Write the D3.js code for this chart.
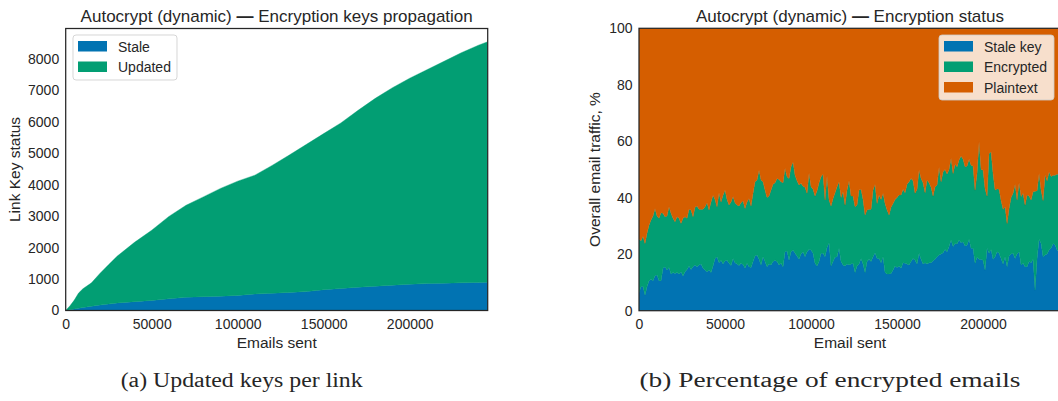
<!DOCTYPE html>
<html><head><meta charset="utf-8">
<script src="https://cdn.jsdelivr.net/npm/d3@7"></script>
<style>
html,body{margin:0;padding:0;background:#fff;overflow:hidden}
svg{display:block}
text{font-family:"Liberation Sans",Arial,sans-serif;fill:#262626}
</style></head><body>
<svg id="c" width="1058" height="401"></svg>
<script>
// ---------- Panel (a): link key status ----------
const emailsA = [0,2500,5000,7500,10000,15000,20000,25000,30000,40000,50000,60000,70000,80000,90000,100000,110000,120000,130000,140000,150000,160000,170000,180000,190000,200000,210000,220000,230000,240000,245350];
const staleA = [0,25,50,75,95,135,175,205,240,282,320,372,418,440,455,480,525,545,575,600,660,700,740,770,805,835,855,868,880,893,895];
const updatedA = [0,125,280,480,595,745,1010,1255,1490,1883,2230,2618,2927,3170,3425,3630,3775,4065,4365,4680,4960,5260,5620,5970,6275,6545,6795,7052,7310,7537,7645];

// ---------- Panel (b): encryption status (% of traffic) ----------
const emailsStepB = 1163; // sampling interval of the series, emails
const staleB = [6.4,8.5,8.7,5.5,8.5,10.6,11.1,10.6,12.4,12.6,10.6,10.6,15.0,15.6,14.4,15.3,13.0,13.5,13.2,13.5,13.0,13.8,12.3,13.8,14.6,15.8,14.6,15.6,16.2,15.6,16.2,16.5,15.0,14.4,13.8,14.4,13.5,15.8,18.5,19.1,17.0,17.9,16.5,17.7,17.9,16.8,16.0,18.5,17.0,16.5,16.0,16.8,16.4,
15.0,16.8,15.6,15.3,17.4,19.4,19.7,18.2,16.2,19.1,17.4,15.6,16.5,16.2,17.4,17.9,17.4,16.2,16.8,15.6,20.9,21.1,17.9,20.9,21.5,20.3,19.4,18.2,20.1,20.9,19.1,20.9,21.7,21.5,20.3,16.8,15.8,17.4,20.3,20.3,19.1,22.4,24.1,15.8,17.4,18.9,19.1,22.1,17.4,16.2,15.8,16.5,16.2,16.5,
16.8,13.5,15.8,16.5,18.5,16.5,13.5,17.4,18.2,17.4,19.1,20.5,18.5,18.5,17.0,19.1,13.5,13.0,13.0,13.2,14.4,15.8,15.3,15.8,15.0,17.0,16.8,16.5,16.2,17.4,18.5,17.9,16.5,20.3,18.2,16.5,17.0,16.5,17.0,17.0,17.7,18.2,19.1,19.7,20.1,20.5,21.7,20.9,22.7,25.0,22.7,23.8,23.6,25.0,
24.1,24.4,22.9,23.3,25.3,22.1,22.1,16.8,18.9,18.2,18.2,17.9,14.4,22.1,20.3,21.7,18.2,19.1,20.9,20.3,18.5,16.5,19.1,15.6,19.4,20.1,20.3,18.5,20.1,20.9,16.2,16.8,15.6,15.6,17.4,17.0,18.2,7.3,18.5,25.3,23.8,19.1,19.7,20.1,21.5,22.1,23.8,23.3,21.5,21.0];
const encryptedB = [18.9,16.3,17.7,18.3,18.9,19.7,21.0,22.9,23.8,20.9,22.1,24.1,19.5,17.7,19.1,21.5,21.5,19.2,18.3,19.8,19.7,17.1,20.4,19.5,18.1,20.1,21.1,17.7,20.4,21.5,19.7,19.4,20.9,22.4,24.4,21.3,25.0,25.1,20.9,17.7,24.8,20.6,24.4,25.0,21.5,20.6,22.5,21.9,21.2,20.9,21.1,21.4,22.5,
21.2,21.7,24.1,21.8,24.2,26.3,26.6,31.6,30.1,26.6,25.3,24.5,24.1,26.5,27.4,27.4,29.4,30.3,28.9,29.7,29.5,26.3,28.9,30.1,31.2,27.7,26.6,26.3,25.0,23.2,24.6,20.7,27.1,22.4,22.7,23.8,26.7,27.9,27.1,28.1,20.1,25.3,15.1,21.3,22.3,22.9,24.8,23.6,22.7,25.9,21.6,26.2,29.8,24.1,
23.8,23.3,21.6,26.2,24.5,22.9,20.4,18.3,17.7,18.5,23.6,24.3,19.5,22.5,22.4,22.5,24.5,22.7,20.9,23.4,23.6,23.6,24.8,25.2,26.0,26.0,25.0,28.3,29.5,29.4,27.5,23.7,26.5,29.5,28.6,28.8,24.8,29.8,28.3,26.7,22.9,25.7,25.4,31.1,25.6,28.7,28.3,27.5,27.3,29.0,25.9,28.1,27.4,28.4,
30.7,29.2,28.1,27.9,28.3,29.4,29.1,25.9,29.9,41.6,31.8,31.9,28.8,18.5,35.4,34.6,30.4,23.6,22.3,22.7,20.5,19.4,17.7,15.3,16.8,20.0,21.3,26.3,19.1,24.4,24.2,24.8,21.8,25.4,23.2,22.2,23.9,35.0,24.0,23.3,18.9,19.9,28.4,25.9,27.7,25.4,24.2,24.7,26.9,27.0];

const xTicks = [0,50000,100000,150000,200000];
const yTicksA = [0,1000,2000,3000,4000,5000,6000,7000,8000];
const yTicksB = [0,20,40,60,80,100];
const xMax = 245350;
const COL = {blue:"#0173b2", green:"#029e73", orange:"#d55e00"};

const svg = d3.select("#c");

function panel(cfg){
  const g = svg.append("g");
  const x = d3.scaleLinear().domain([0,xMax]).range([cfg.left,cfg.right]);
  const y = d3.scaleLinear().domain(cfg.yDomain).range([cfg.bottom,cfg.top]);
  const clipId = "clip"+cfg.id;
  svg.append("clipPath").attr("id",clipId).append("rect")
    .attr("x",cfg.left).attr("y",cfg.top).attr("width",cfg.right-cfg.left).attr("height",cfg.bottom-cfg.top);
  const stack = d3.stack().keys(cfg.keys)(cfg.rows);
  const area = d3.area().x(d=>x(d.data.x)).y0(d=>y(d[0])).y1(d=>y(d[1]));
  g.append("g").attr("clip-path",`url(#${clipId})`).selectAll("path").data(stack).join("path")
    .attr("d",area).attr("fill",(d,i)=>cfg.colors[i]).attr("stroke",(d,i)=>cfg.colors[i]).attr("stroke-width",0.4);
  // axes
  const ax = g.append("g").attr("transform",`translate(0,${cfg.bottom})`)
    .call(d3.axisBottom(x).tickValues(xTicks).tickFormat(d3.format("d")).tickSize(0).tickPadding(8.5));
  const ay = g.append("g").attr("transform",`translate(${cfg.left},0)`)
    .call(d3.axisLeft(y).tickValues(cfg.yTicks).tickFormat(d3.format("d")).tickSize(0).tickPadding(6.5));
  [ax,ay].forEach(a=>{a.select(".domain").remove();a.selectAll("text").attr("font-size",14).attr("font-family","Liberation Sans, Arial, sans-serif").attr("fill","#262626");});
  // spines
  g.append("rect").attr("x",cfg.left).attr("y",cfg.top).attr("width",cfg.right-cfg.left).attr("height",cfg.bottom-cfg.top)
    .attr("fill","none").attr("stroke","#262626").attr("stroke-width",1.25);
  // title & labels
  const cx=(cfg.left+cfg.right)/2, cy=(cfg.top+cfg.bottom)/2;
  const t = g.append("text").attr("x",cx).attr("y",21.5).attr("text-anchor","middle").attr("font-size",17);
  t.append("tspan").text(cfg.title[0]);
  t.append("tspan").attr("font-weight","bold").text(" — ");
  t.append("tspan").text(cfg.title[1]);
  g.append("text").attr("x",cx).attr("y",347.5).attr("text-anchor","middle").attr("font-size",15.5).text(cfg.xLabel);
  g.append("text").attr("transform",`translate(${cfg.yLabelX},${cy}) rotate(-90)`).attr("text-anchor","middle").attr("font-size",15.5).text(cfg.yLabel);
  // legend
  const L = cfg.legend;
  const lg = g.append("g");
  lg.append("rect").attr("x",L.x).attr("y",L.y).attr("width",L.w).attr("height",L.h).attr("rx",3)
    .attr("fill","#fff").attr("fill-opacity",0.8).attr("stroke","#ccc").attr("stroke-opacity",0.8).attr("stroke-width",1);
  L.items.forEach((it,i)=>{
    lg.append("rect").attr("x",L.x+5).attr("y",L.y+6+i*20.5).attr("width",29).attr("height",10.5).attr("fill",it.c);
    lg.append("text").attr("x",L.x+45).attr("y",L.y+16.8+i*20.5).attr("font-size",14).text(it.t);
  });
  // caption
  svg.append("text").attr("x",cx - (cfg.id==="a"?35:20)).attr("y",387).attr("text-anchor","middle")
    .style("font-family","'Liberation Serif','Times New Roman',serif").attr("font-size",20)
    .attr("textLength",cfg.capW).attr("lengthAdjust","spacingAndGlyphs").text(cfg.caption);
}

const rowsA = emailsA.map((e,i)=>({x:e, stale:staleA[i], updated:updatedA[i]}));
const rowsB = staleB.map((s,i)=>({x:i*emailsStepB, stale:s, encrypted:encryptedB[i], plaintext:100-s-encryptedB[i]}));

panel({id:"a", left:65.7, right:487.7, top:28.5, bottom:310.5, yDomain:[0,8960], yTicks:yTicksA,
  keys:["stale","updated"], rows:rowsA, colors:[COL.blue,COL.green],
  title:["Autocrypt (dynamic)","Encryption keys propagation"], xLabel:"Emails sent", yLabel:"Link Key status", yLabelX:19.5,
  legend:{x:73,y:35,w:104,h:45,items:[{t:"Stale",c:COL.blue},{t:"Updated",c:COL.green}]},
  caption:"(a) Updated keys per link", capW:242});
panel({id:"b", left:639, right:1061, top:28.3, bottom:310.7, yDomain:[0,100], yTicks:yTicksB,
  keys:["stale","encrypted","plaintext"], rows:rowsB, colors:[COL.blue,COL.green,COL.orange],
  title:["Autocrypt (dynamic)","Encryption status"], xLabel:"Email sent", yLabel:"Overall email traffic, %", yLabelX:599.5,
  legend:{x:939,y:35,w:115,h:65,items:[{t:"Stale key",c:COL.blue},{t:"Encrypted",c:COL.green},{t:"Plaintext",c:COL.orange}]},
  caption:"(b) Percentage of encrypted emails", capW:381});
</script>
</body></html>
